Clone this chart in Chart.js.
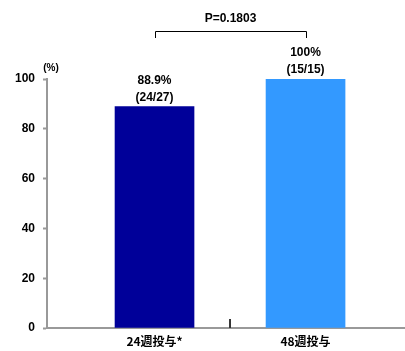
<!DOCTYPE html>
<html>
<head>
<meta charset="utf-8">
<script src="https://cdn.jsdelivr.net/npm/chart.js@4"></script>
<style>
  body { margin: 0; background: #fff; }
</style>
</head>
<body>
<canvas id="chart" width="405" height="351"></canvas>
<script>
var categories = ['24週投与*', '48週投与'];
var values = [88.9, 100];
var valueLabels = ['88.9%', '100%'];
var countLabels = ['(24/27)', '(15/15)'];
var barColors = ['#000099', '#3399FF'];
var yTicks = [0, 20, 40, 60, 80, 100];
var pValue = 'P=0.1803';

const points = values.map((v, i) => ({ x: i + 1, y: v }));

// labels above bars, bracket, middle tick
const annotate = {
    id: 'annotate',
    afterDraw(chart) {
        const ctx = chart.ctx;
        const xs = chart.scales.x;
        const ys = chart.scales.y;
        ctx.save();
        ctx.fillStyle = '#000';
        ctx.textAlign = 'center';
        ctx.textBaseline = 'middle';
        ctx.font = 'bold 12px "Liberation Sans", Arial, sans-serif';
        values.forEach((v, i) => {
            const px = xs.getPixelForValue(i + 1);
            const py = ys.getPixelForValue(v);
            ctx.fillText(valueLabels[i], px, py - 26);
            ctx.fillText(countLabels[i], px, py - 9);
        });
        // p value bracket
        const x1 = Math.round(xs.getPixelForValue(1));
        const x2 = Math.round(xs.getPixelForValue(2));
        ctx.strokeStyle = '#000';
        ctx.lineWidth = 1;
        ctx.beginPath();
        ctx.moveTo(x1 + 0.5, 38);
        ctx.lineTo(x1 + 0.5, 31.5);
        ctx.lineTo(x2 + 0.5, 31.5);
        ctx.lineTo(x2 + 0.5, 38);
        ctx.stroke();
        ctx.fillText(pValue, (x1 + x2) / 2, 19);
        // unit
        ctx.font = 'bold 10px "Liberation Sans", Arial, sans-serif';
        ctx.fillText('(%)', 51, 68);
        // middle tick on x axis
        const xm = xs.getPixelForValue(1.5);
        ctx.strokeStyle = '#333';
        ctx.lineWidth = 2;
        ctx.beginPath();
        ctx.moveTo(xm, ys.bottom);
        ctx.lineTo(xm, ys.bottom - 9);
        ctx.stroke();
        ctx.restore();
    }
};

new Chart(document.getElementById('chart'), {
    type: 'bar',
    data: {
        datasets: [{
            data: points,
            backgroundColor: barColors,
            barThickness: 79
        }]
    },
    options: {
        responsive: false,
        animation: false,
        layout: { padding: { top: 79, right: 1, left: 0, bottom: 0 } },
        plugins: { legend: { display: false }, tooltip: { enabled: false } },
        scales: {
            x: {
                type: 'linear',
                offset: false,
                min: 0.288,
                max: 2.652,
                afterBuildTicks(scale) {
                    scale.ticks = categories.map((c, i) => ({ value: i + 1 }));
                },
                afterFit(scale) { scale.height = 23; },
                ticks: {
                    padding: -2,
                    color: '#000',
                    font: { family: '"Noto Sans CJK JP", sans-serif', size: 12, weight: 'bold' },
                    callback: (v) => categories[v - 1]
                },
                grid: { display: false, offset: false },
                border: { color: '#999', width: 2 }
            },
            y: {
                min: 0,
                max: 100,
                afterBuildTicks(scale) {
                    scale.ticks = yTicks.map(v => ({ value: v }));
                },
                afterFit(scale) { scale.width = 47; },
                ticks: {
                    padding: 8,
                    color: '#000',
                    font: { family: '"Liberation Sans", Arial, sans-serif', size: 12, weight: 'bold' }
                },
                grid: { drawOnChartArea: false, tickLength: 4, color: '#999', tickWidth: 2 },
                border: { color: '#999', width: 2 }
            }
        }
    },
    plugins: [annotate]
});
</script>
</body>
</html>
